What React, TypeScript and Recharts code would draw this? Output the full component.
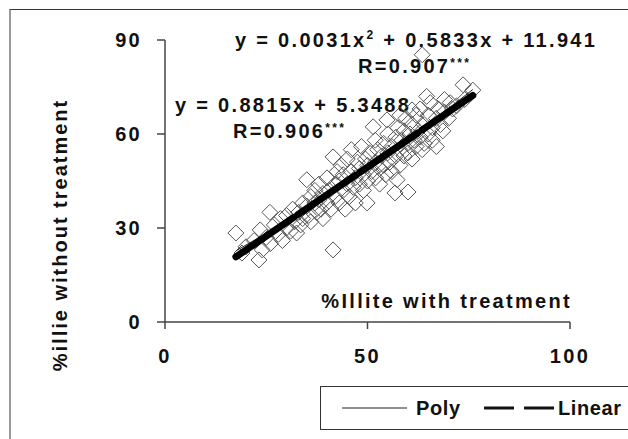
import { ScatterChart, Scatter, XAxis, YAxis, Legend, Customized } from 'recharts'

interface Pt {
  x: number
  y: number
}

// scatter values (%Illite with / without treatment)
const withTreatment: number[] = [
  17.5, 19, 20, 22, 23.2, 23.5, 24, 25, 25.9, 26, 27, 28, 28.5, 29, 30, 30, 31, 31.5, 32, 32.5,
  33, 33.5, 34, 34, 35, 35, 35.5, 36, 36, 37, 37, 37.5, 38, 38, 38.5, 39, 39, 40, 40, 40.5,
  41, 41.5, 41.5, 42, 42, 42.5, 43, 43, 43.5, 44, 44, 44.5, 45, 45, 45.5, 46, 46, 46.5, 47, 47,
  47.5, 48, 48, 48.5, 49, 49, 49.5, 49.9, 50, 50, 50.5, 51, 51.4, 51.9, 52, 52, 52.5, 53, 53, 53.5,
  54, 54, 54.5, 54.8, 55, 55, 55.5, 56, 56, 56.8, 57, 57, 57.3, 57.5, 58, 58, 58, 58.5, 59, 59,
  59.5, 60, 60, 60, 60.5, 61, 61, 61, 61.5, 62, 62, 62.5, 63, 63, 63.5, 63.5, 64, 64, 64.6, 65,
  65, 65.5, 66, 66, 67, 67, 67.5, 68, 68.6, 69, 69, 70, 70.4, 71, 72, 73.6, 74, 76,
]
const withoutTreatment: number[] = [
  28.4, 22, 24, 26, 19.8, 29.4, 23, 27, 35, 25, 31, 28, 33, 26, 30, 34, 29, 36, 32, 28.4,
  35, 31, 38, 33, 45.4, 37, 34, 40, 32, 38, 42, 35, 39, 44, 36, 41, 33, 38, 46, 42,
  36, 23, 52.7, 44, 40, 48, 38, 45, 50, 42, 47, 36, 44, 52, 40, 48, 55, 43, 46, 38,
  51, 44, 49, 56, 47, 42, 52, 38, 45, 50, 54, 48, 62.3, 58, 46, 51, 55, 49, 44, 53,
  57, 50, 47, 64.5, 54, 60, 51, 56, 48, 41.2, 53, 59, 45.4, 62, 55, 50, 66, 58, 61, 53,
  65, 41.5, 57, 54, 60, 63, 52, 67.7, 58, 66, 56, 61, 59, 68, 85.3, 55, 63, 57, 72, 60,
  66, 70, 62, 58, 56, 65, 68, 63, 61, 67, 71, 65, 70, 68, 69, 75.7, 71, 74,
]

// trend lines
const linearX: number[] = [17.5, 76]
const linearY: number[] = [20.8, 72.3]
const polyX: number[] = [17.5, 30, 45, 60, 76]
const polyY: number[] = [22.7, 32, 44.5, 58, 74.2]

const xTicks: number[] = [0, 50, 100]
const yTicks: number[] = [0, 30, 60, 90]

const toPts = (xs: number[], ys: number[]): Pt[] => xs.map((x, i) => ({ x, y: ys[i] }))
const scatterData = toPts(withTreatment, withoutTreatment)
const linearData = toPts(linearX, linearY)
const polyData = toPts(polyX, polyY)

const FONT = '"Liberation Sans", Arial, sans-serif'
const textStyle = { fontFamily: FONT, fontWeight: 700, fontSize: 20, fill: '#111', letterSpacing: 2.3 }
const legendText = { ...textStyle, letterSpacing: 0.6 }

function DiamondShape(props: any) {
  const { cx, cy } = props
  const r = 8
  return (
    <path
      d={`M${cx},${cy - r}L${cx + r},${cy}L${cx},${cy + r}L${cx - r},${cy}Z`}
      fill="none"
      stroke="#555"
      strokeWidth={1}
    />
  )
}

const NoShape = () => <g />

function Annotations() {
  return (
    <g>
      <text x={235} y={47} style={textStyle}>
        y = 0.0031x<tspan fontSize={12} dy={-8}>2</tspan>
        <tspan dy={8}> + 0.5833x + 11.941</tspan>
      </text>
      <text x={358} y={73} style={textStyle}>
        R=0.907<tspan fontSize={12} dy={-6}>***</tspan>
      </text>
      <text x={175} y={112} style={textStyle}>y = 0.8815x + 5.3488</text>
      <text x={233} y={138} style={textStyle}>
        R=0.906<tspan fontSize={12} dy={-6}>***</tspan>
      </text>
      <text x={572} y={308} textAnchor="end" style={textStyle}>%Illite with treatment</text>
      <text x={67} y={235} textAnchor="middle" transform="rotate(-90, 67, 235)" style={{ ...textStyle, letterSpacing: 2 }}>
        %illie without treatment
      </text>
    </g>
  )
}

function LegendBox() {
  return (
    <div
      style={{
        width: 320,
        height: 44,
        border: '1px solid #333',
        boxSizing: 'border-box',
        background: '#fff',
      }}
    >
      <svg width={320} height={42}>
        <line x1={21} y1={21} x2={86} y2={21} stroke="#222" strokeWidth={1} />
        <text x={95} y={28} style={legendText}>Poly</text>
        <line x1={163} y1={21} x2={233} y2={21} stroke="#111" strokeWidth={3} strokeDasharray="30 10" />
        <text x={237} y={28} style={legendText}>Linear</text>
      </svg>
    </div>
  )
}

export default function App() {
  return (
    <div style={{ position: 'absolute', left: 0, top: 0, width: 628, height: 439, background: '#fff', overflow: 'hidden' }}>
      <div
        style={{
          position: 'absolute',
          left: 9,
          top: 9,
          width: 700,
          height: 500,
          borderLeft: '2px solid #999',
          borderTop: '1px solid #333',
        }}
      />
      <ScatterChart width={628} height={439} margin={{ top: 40, right: 58, bottom: 0, left: 0 }}>
        <XAxis
          type="number"
          dataKey="x"
          domain={[0, 100]}
          ticks={xTicks}
          height={117}
          stroke="#444"
          strokeWidth={1.5}
          tickSize={7}
          tickMargin={20}
          tick={textStyle}
        />
        <YAxis
          type="number"
          dataKey="y"
          domain={[0, 90]}
          ticks={yTicks}
          width={165}
          stroke="#444"
          strokeWidth={1.5}
          tickSize={8}
          tickMargin={15}
          tick={textStyle}
        />
        <Scatter data={scatterData} shape={<DiamondShape />} isAnimationActive={false} name="data" />
        <Scatter
          data={polyData}
          line={{ stroke: '#222', strokeWidth: 1 }}
          lineType="joint"
          shape={<NoShape />}
          isAnimationActive={false}
          name="Poly"
        />
        <Scatter
          data={linearData}
          line={{ stroke: '#000', strokeWidth: 7, strokeDasharray: '70 5', strokeLinecap: 'round' }}
          lineType="joint"
          shape={<NoShape />}
          isAnimationActive={false}
          name="Linear"
        />
        <Customized component={Annotations} />
        <Legend
          layout="horizontal"
          verticalAlign="middle"
          content={() => <LegendBox />}
          wrapperStyle={{ left: 320, top: 386, width: 320, height: 44 }}
        />
      </ScatterChart>
    </div>
  )
}
